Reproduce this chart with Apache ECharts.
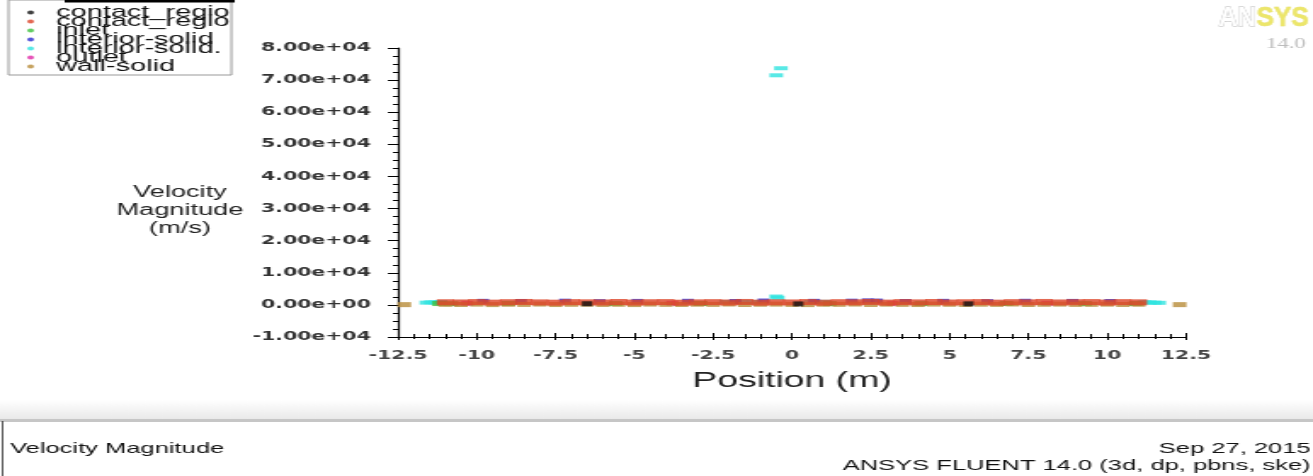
<!DOCTYPE html>
<html>
<head>
<meta charset="utf-8">
<script src="https://cdn.jsdelivr.net/npm/echarts@6/dist/echarts.min.js"></script>
<style>
html,body{margin:0;padding:0;background:#fff;overflow:hidden;width:1313px;height:476px;}
#wrap{width:1313px;height:476px;overflow:hidden;position:relative;}
#chart{width:772px;height:476px;transform-origin:0 0;transform:scaleX(1.70078);}
</style>
</head>
<body>
<div id="wrap"><div id="chart"></div></div>
<script>
// ---- data ----
const seriesNames = ['contact_region', 'contact_region.1', 'inlet', 'interior-solid', 'interior-solid.1', 'outlet', 'wall-solid'];
const seriesColors = ['#111111', '#dc4428', '#3cc03c', '#2a2ad0', '#30e4e0', '#e02aa8', '#b88c3a'];

const xTicks = [-12.5, -10, -7.5, -5, -2.5, 0, 2.5, 5, 7.5, 10, 12.5];
const xTickLabels = ['-12.5', '-10', '-7.5', '-5', '-2.5', '0', '2.5', '5', '7.5', '10', '12.5'];
const yTicks = [-10000, 0, 10000, 20000, 30000, 40000, 50000, 60000, 70000, 80000];
const yTickLabels = ['-1.00e+04', '0.00e+00', '1.00e+04', '2.00e+04', '3.00e+04', '4.00e+04', '5.00e+04', '6.00e+04', '7.00e+04', '8.00e+04'];

// band of wall positions (m)
const bandPos = [-11, -10.5, -10, -9.5, -9, -8.5, -8, -7.5, -7, -6.5, -6, -5.5, -5, -4.5, -4, -3.5, -3, -2.5, -2, -1.5, -1, -0.5, 0, 0.5, 1, 1.5, 2, 2.5, 3, 3.5, 4, 4.5, 5, 5.5, 6, 6.5, 7, 7.5, 8, 8.5, 9, 9.5, 10, 10.5, 11];
const contact1Vals = [820, 760, 880, 700, 840, 910, 780, 690, 860, 800, 750, 900, 720, 830, 870, 680, 790, 850, 740, 910, 700, 820, 760, 880, 690, 840, 800, 930, 710, 860, 780, 900, 740, 820, 870, 700, 850, 790, 910, 760, 830, 880, 720, 860, 800];
const wallVals = [180, 120, 240, 90, 200, 150, 260, 110, 190, 230, 140, 210, 100, 250, 170, 130, 220, 160, 270, 120, 200, 240, 150, 90, 210, 180, 260, 130, 230, 170, 110, 250, 190, 140, 220, 160, 280, 120, 200, 240, 150, 180, 230, 130, 210];
const wallEndPos = [-12.3, 12.3];
const wallEndVals = [80, 80];

const contactPos = [-6.5, 0.2, 5.6];
const contactVals = [350, 300, 320];
const inletPos = [-11.2, -10.8, -9.0, -5.6, -2.9, 1.2, 4.1, 6.8, 9.3, 10.9];
const inletVals = [420, 380, 450, 400, 430, 390, 410, 440, 400, 420];
const interiorPos = [-9.8, -8.6, -7.2, -6.1, -4.9, -3.3, -1.8, -0.9, 0.7, 1.9, 2.4, 2.7, 3.6, 4.8, 6.2, 7.4, 8.9, 10.1];
const interiorVals = [1100, 1050, 1150, 1000, 1080, 1120, 1060, 1200, 1100, 1150, 1250, 1180, 1050, 1100, 1000, 1120, 1080, 1050];
const interior1Pos = [-11.6, -11.45, -11.3, -11.15, -2.1, -1.6, -1.2, 0.6, 1.0, 11.2, 11.35, 11.5, 11.65, -0.5, -0.45, -0.5, -0.35];
const interior1Vals = [700, 800, 750, 850, 900, 950, 900, 900, 950, 800, 750, 700, 650, 2600, 2200, 71500, 73700];
const outletPos = [-10.3, -3.8, 3.2, 8.1];
const outletVals = [500, 520, 480, 510];

// ---- chart ----
const pairs = (xs, ys) => xs.map((x, i) => [x, ys[i]]);
const chart = echarts.init(document.getElementById('chart'), null, {renderer: 'canvas'});

const tickFont = {fontFamily: 'DejaVu Sans', fontWeight: 'bold', fontSize: 12, color: '#333'};

function mk(idx, data, size, z) {
  return {
    name: seriesNames[idx], type: 'scatter', data: data,
    symbol: 'rect', symbolSize: size, z: z,
    itemStyle: {color: seriesColors[idx]},
    xAxisIndex: 0, yAxisIndex: 0, silent: true, animation: false
  };
}

const option = {
  animation: false,
  backgroundColor: '#ffffff',
  color: seriesColors,
  grid: {left: 234, right: 74.7, top: 48, bottom: 139, containLabel: false},
  legend: {
    orient: 'vertical', left: 5, top: 0,
    padding: [4, 1, 0, 11],
    itemWidth: 4, itemHeight: 4, itemGap: -8,
    icon: 'circle',
    backgroundColor: '#ffffff', borderColor: '#999', borderWidth: 1,
    data: seriesNames,
    textStyle: {fontFamily: 'Liberation Sans', fontSize: 17, color: '#111',
      width: 106, overflow: 'truncate', ellipsis: '', padding: [0, 0, 0, 8]},
    selectedMode: false
  },
  xAxis: [{
    type: 'value', min: -12.5, max: 12.5, interval: 2.5,
    name: 'Position (m)', nameLocation: 'middle', nameGap: 33,
    nameTextStyle: {fontFamily: 'Liberation Sans', fontSize: 22, color: '#222'},
    axisLine: {show: true, onZero: false, lineStyle: {color: '#000', width: 1}},
    axisTick: {show: true, inside: true, length: 4, lineStyle: {color: '#000'}},
    minorTick: {show: true, splitNumber: 5, length: 3, lineStyle: {color: '#000'}},
    splitLine: {show: false},
    axisLabel: Object.assign({margin: 13, formatter: v => {
      const i = xTicks.findIndex(t => Math.abs(t - v) < 1e-9); return i >= 0 ? xTickLabels[i] : ''; }}, tickFont, {color: '#444'})
  }, {
    type: 'value', min: -12.5, max: 12.5, interval: 2.5, position: 'bottom', offset: 0,
    axisLine: {show: false, onZero: false},
    axisTick: {show: true, inside: false, length: 3, lineStyle: {color: '#000'}},
    minorTick: {show: true, splitNumber: 5, length: 2, lineStyle: {color: '#000'}},
    splitLine: {show: false}, axisLabel: {show: false}
  }],
  yAxis: {
    type: 'value', min: -10000, max: 80000, interval: 10000,
    axisLine: {show: true, onZero: false, lineStyle: {color: '#000', width: 1.2}},
    axisTick: {show: true, inside: false, length: 6, lineStyle: {color: '#000'}},
    minorTick: {show: true, splitNumber: 4, length: 3, lineStyle: {color: '#000'}},
    splitLine: {show: false},
    axisLabel: Object.assign({margin: 16, formatter: v => {
      const i = yTicks.indexOf(v); return i >= 0 ? yTickLabels[i] : ''; }}, tickFont)
  },
  series: [
    mk(0, pairs(contactPos, contactVals), [6, 5], 6),
    mk(1, pairs(bandPos, contact1Vals), [10, 6], 5),
    mk(2, pairs(inletPos, inletVals), [8, 5], 3),
    mk(3, pairs(interiorPos, interiorVals), [7, 5], 3),
    mk(4, pairs(interior1Pos, interior1Vals), [8, 4], 2),
    mk(5, pairs(outletPos, outletVals), [7, 5], 3),
    mk(6, pairs(bandPos.concat(wallEndPos), wallVals.concat(wallEndVals)), [8, 5], 4)
  ],
  graphic: [
    {type: 'rect', left: 38, top: 0, z: 100, shape: {width: 100, height: 2.5}, style: {fill: '#000'}},
    {type: 'text', x: 105.8, y: 210.5, z: 10, style: {text: 'Velocity\nMagnitude\n(m/s)', fontFamily: 'Liberation Sans', fontSize: 16, lineHeight: 18, fill: '#222', align: 'center', verticalAlign: 'middle'}},
    {type: 'rect', left: 0, top: 400, z: 1, shape: {width: 772, height: 20},
      style: {fill: {type: 'linear', x: 0, y: 0, x2: 0, y2: 1, colorStops: [{offset: 0, color: '#ffffff'}, {offset: 1, color: '#e8e8e8'}]}}},
    {type: 'rect', left: 0, top: 419, z: 1, shape: {width: 772, height: 3}, style: {fill: '#c6c6c6'}},
    {type: 'rect', left: 1.2, top: 421, z: 1, shape: {width: 0.8, height: 55}, style: {fill: '#333'}},
    {type: 'text', x: 5.9, y: 449, z: 10, style: {text: 'Velocity Magnitude', fontFamily: 'Liberation Sans', fontSize: 15, fill: '#111', align: 'left', verticalAlign: 'middle'}},
    {type: 'text', x: 770.6, y: 449, z: 10, style: {text: 'Sep 27, 2015', fontFamily: 'Liberation Sans', fontSize: 15, fill: '#111', align: 'right', verticalAlign: 'middle'}},
    {type: 'text', x: 770.6, y: 466, z: 10, style: {text: 'ANSYS FLUENT 14.0 (3d, dp, pbns, ske)', fontFamily: 'Liberation Sans', fontSize: 15, fill: '#111', align: 'right', verticalAlign: 'middle'}},
    {type: 'text', x: 716.5, y: 18.5, z: 10, scaleX: 0.55, style: {
      text: '{a|AN}{b|SYS}', align: 'left', verticalAlign: 'middle',
      rich: {
        a: {fontFamily: 'Liberation Sans', fontWeight: 'bold', fontSize: 28, fill: '#ffffff', stroke: '#b8b8b8', lineWidth: 1},
        b: {fontFamily: 'Liberation Sans', fontWeight: 'bold', fontSize: 28, fill: '#ece66a', stroke: '#e0d860', lineWidth: 0.5}
      }}},
    {type: 'text', x: 756, y: 44, z: 10, scaleX: 0.9, style: {text: '14.0', fontFamily: 'Liberation Serif', fontSize: 15, fill: '#bcbcbc', align: 'center', verticalAlign: 'middle'}}
  ]
};
chart.setOption(option);
</script>
</body>
</html>
